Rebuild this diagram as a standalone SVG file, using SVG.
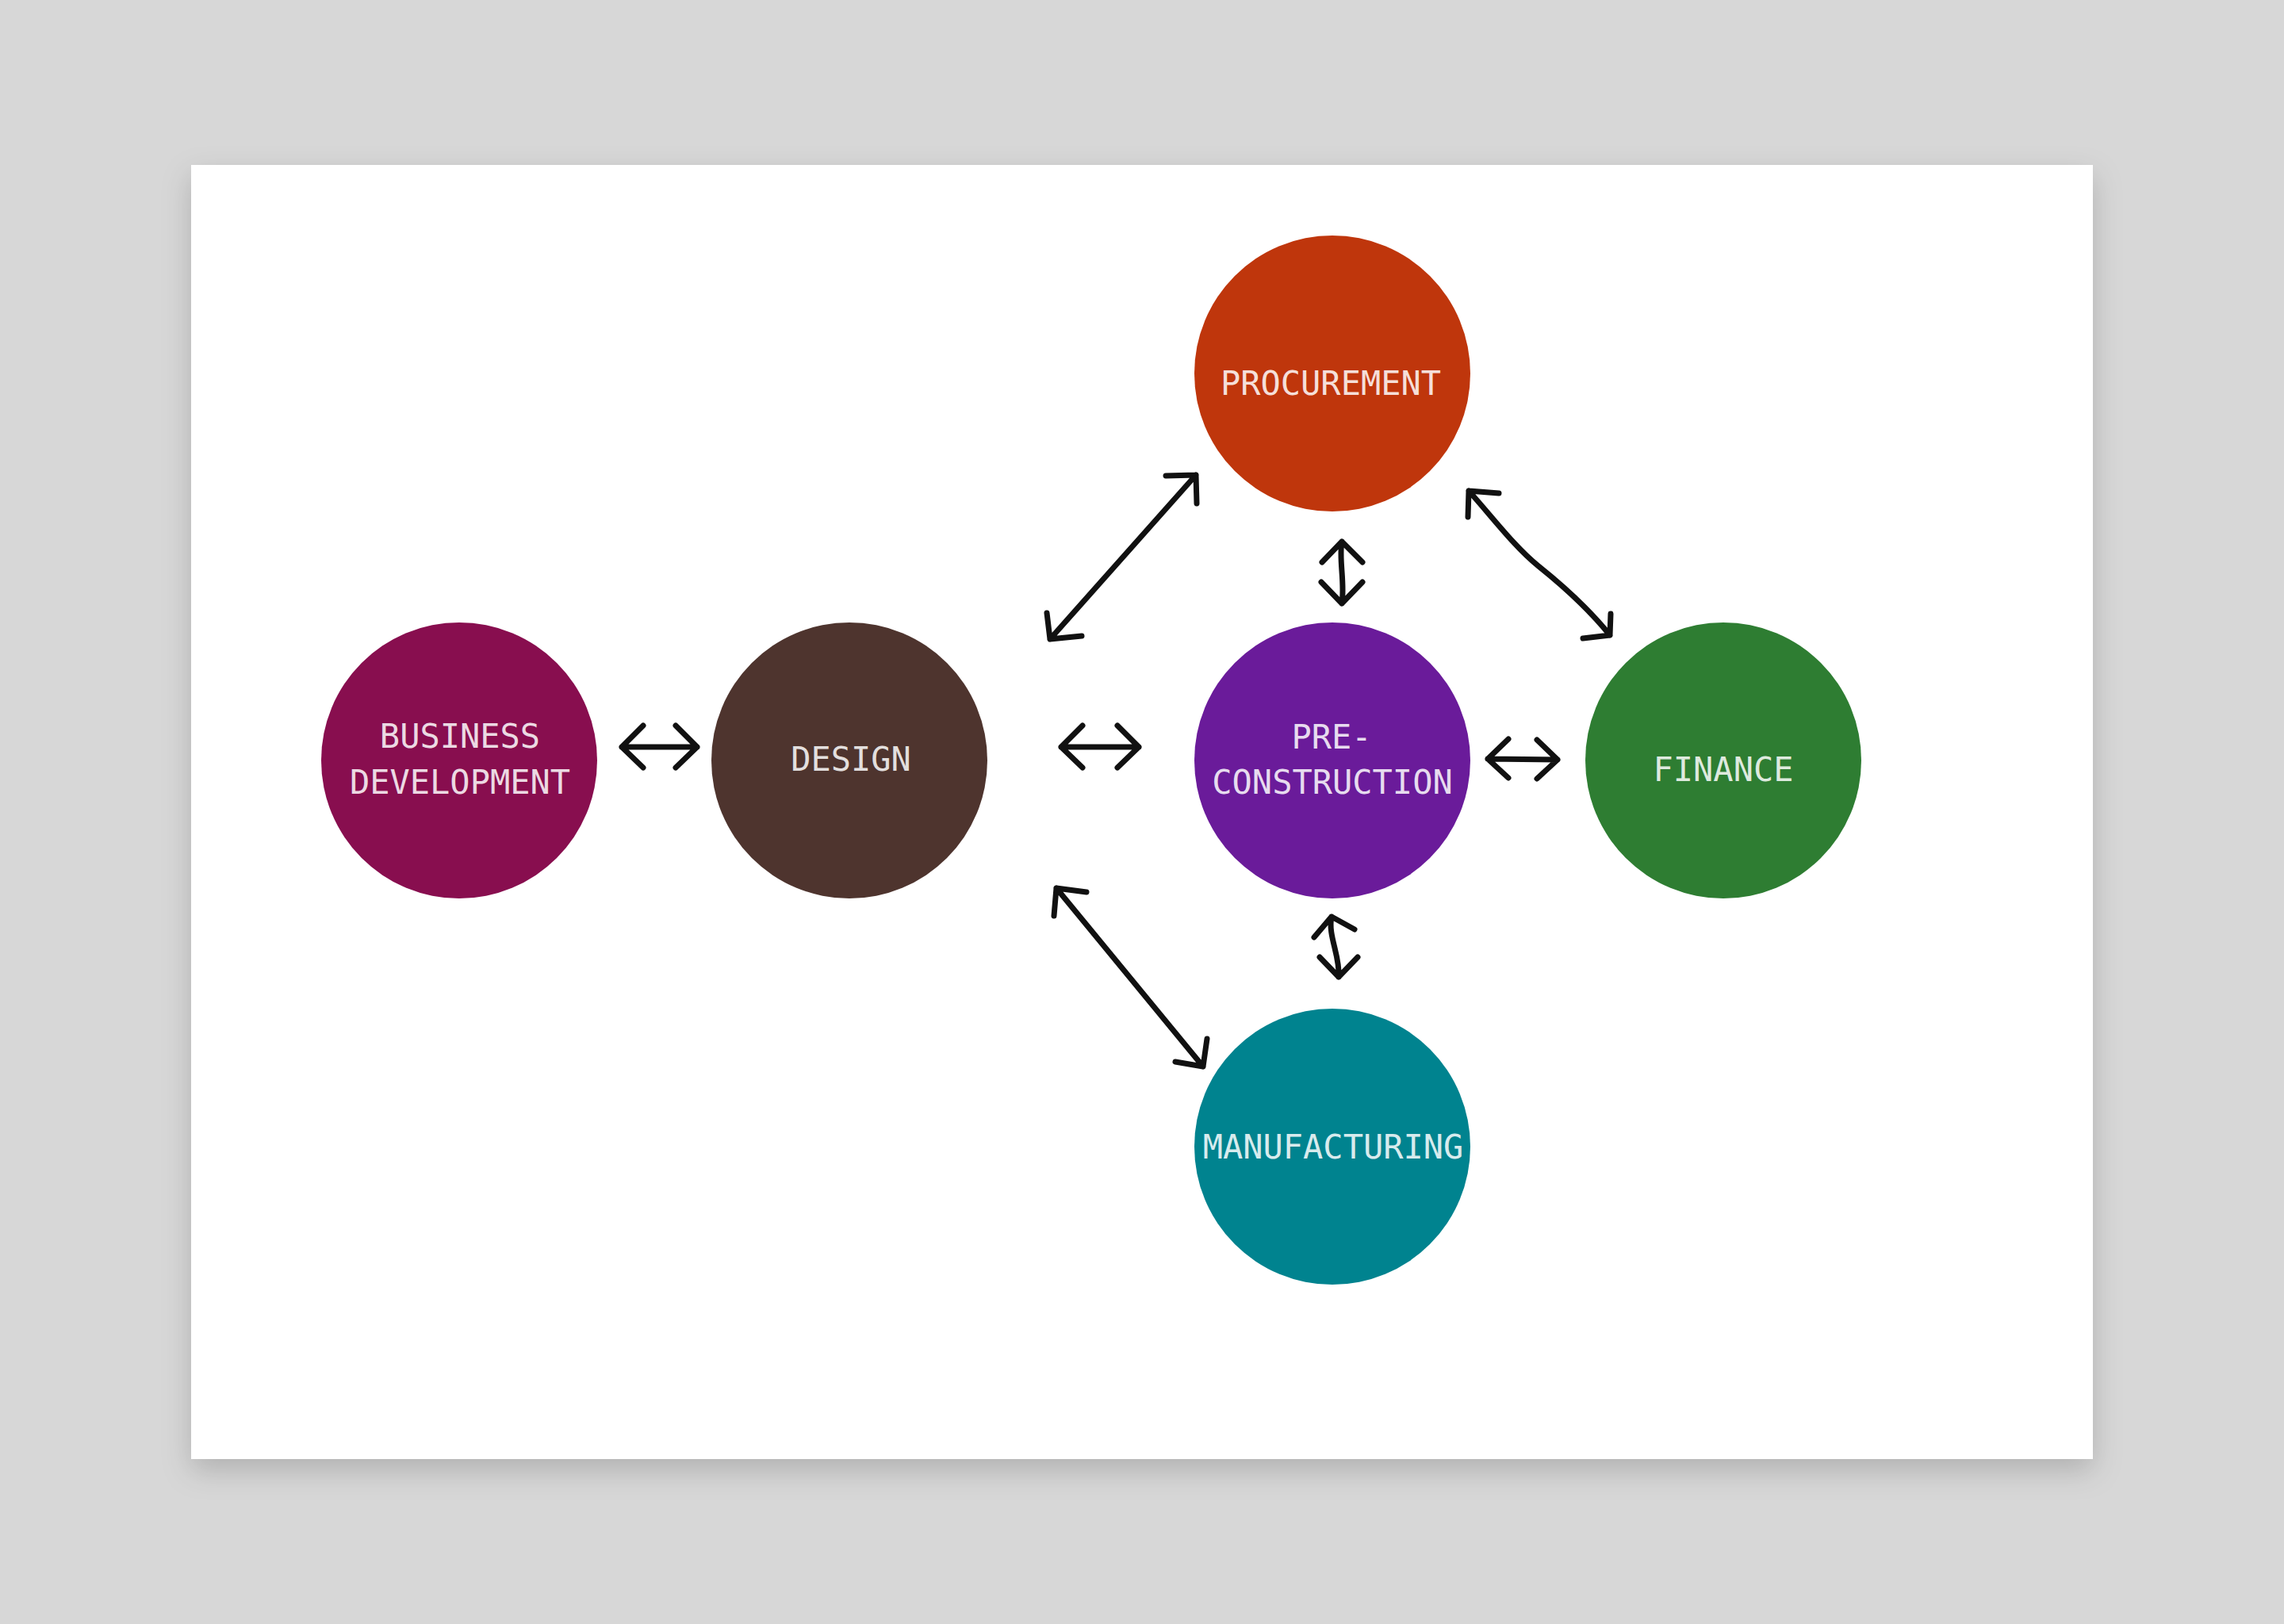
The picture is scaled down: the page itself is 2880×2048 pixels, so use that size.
<svg xmlns="http://www.w3.org/2000/svg" width="2880" height="2048" viewBox="0 0 2880 2048">
  <defs>
    <filter id="shadow" x="-10%" y="-10%" width="120%" height="125%">
      <feDropShadow dx="0" dy="14" stdDeviation="18" flood-color="#000" flood-opacity="0.18"/>
    </filter>
  </defs>
  <style>
    .lbl { font-family: "DejaVu Sans Mono", "Liberation Mono", monospace; font-size: 42px; fill: #ffffff; fill-opacity: 0.86; text-anchor: middle; }
    .arr { fill: none; stroke: #111; stroke-width: 7; stroke-linecap: round; stroke-linejoin: round; }
  </style>
  <rect x="0" y="0" width="2880" height="2048" fill="#d7d7d7"/>
  <rect x="241" y="208" width="2398" height="1632" fill="#ffffff" filter="url(#shadow)"/>

  <g id="node-procurement">
    <circle cx="1680" cy="471" r="174" fill="#bf360c"/>
    <text class="lbl" x="1678" y="498">PROCUREMENT</text>
  </g>
  <g id="node-business-development">
    <circle cx="579" cy="959" r="174" fill="#880e4f"/>
    <text class="lbl" x="580" y="943">BUSINESS</text>
    <text class="lbl" x="580" y="1001">DEVELOPMENT</text>
  </g>
  <g id="node-design">
    <circle cx="1071" cy="959" r="174" fill="#4e342e"/>
    <text class="lbl" x="1073" y="972">DESIGN</text>
  </g>
  <g id="node-pre-construction">
    <circle cx="1680" cy="959" r="174" fill="#6a1b9a"/>
    <text class="lbl" x="1679" y="944">PRE-</text>
    <text class="lbl" x="1680" y="1001">CONSTRUCTION</text>
  </g>
  <g id="node-finance">
    <circle cx="2173" cy="959" r="174" fill="#2e7d32"/>
    <text class="lbl" x="2173" y="985">FINANCE</text>
  </g>
  <g id="node-manufacturing">
    <circle cx="1680" cy="1446" r="174" fill="#00838f"/>
    <text class="lbl" x="1681" y="1461">MANUFACTURING</text>
  </g>

  <g id="connectors">
    <!-- Business Development <-> Design -->
    <path class="arr" d="M784 942 L879 942 M811 915 L784 942 L811 968 M852 915 L879 942 L852 968"/>
    <!-- Design <-> Pre-construction -->
    <path class="arr" d="M1338 942 L1436 942 M1365 915 L1338 942 L1365 968 M1409 915 L1436 942 L1409 968"/>
    <!-- Pre-construction <-> Finance -->
    <path class="arr" d="M1876 957 L1964 958 M1902 932 L1876 957 L1902 981 M1938 933 L1964 958 L1938 982"/>
    <!-- Procurement <-> Pre-construction -->
    <path class="arr" d="M1692 683 C1688 705 1696 735 1692 761 M1667 709 L1692 683 L1718 709 M1666 734 L1692 761 L1718 734"/>
    <!-- Pre-construction <-> Manufacturing -->
    <path class="arr" d="M1679 1156 C1674 1180 1690 1205 1688 1232 M1657 1182 L1679 1156 L1708 1172 M1664 1207 L1688 1232 L1712 1207"/>
    <!-- Design <-> Procurement (diagonal) -->
    <path class="arr" d="M1324 806 L1508 599 M1470 600 L1508 599 L1509 635 M1320 773 L1324 806 L1364 802"/>
    <!-- Procurement <-> Finance (diagonal) -->
    <path class="arr" d="M1852 619 C1880 650 1910 690 1940 714 C1975 742 2005 770 2030 801 M1890 622 L1852 619 L1851 652 M2031 774 L2030 801 L1996 805"/>
    <!-- Design <-> Manufacturing (diagonal) -->
    <path class="arr" d="M1332 1120 L1517 1345 M1370 1125 L1332 1120 L1329 1155 M1522 1310 L1517 1345 L1482 1339"/>
  </g>
</svg>
